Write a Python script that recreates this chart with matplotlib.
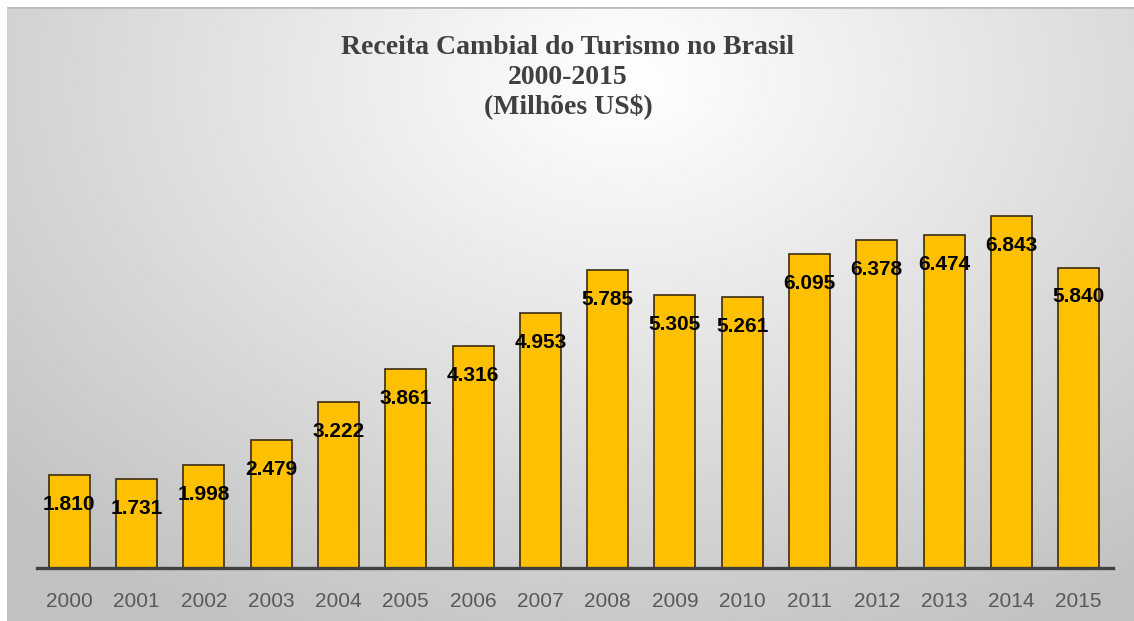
import numpy as np
import matplotlib
matplotlib.use("Agg")
import matplotlib.pyplot as plt

# Receita cambial do turismo no Brasil (milhões US$)
years = ["2000", "2001", "2002", "2003", "2004", "2005", "2006", "2007",
         "2008", "2009", "2010", "2011", "2012", "2013", "2014", "2015"]
receita = [1810, 1731, 1998, 2479, 3222, 3861, 4316, 4953,
           5785, 5305, 5261, 6095, 6378, 6474, 6843, 5840]
labels = ["1.810", "1.731", "1.998", "2.479", "3.222", "3.861", "4.316", "4.953",
          "5.785", "5.305", "5.261", "6.095", "6.378", "6.474", "6.843", "5.840"]

W, H = 1134, 621
fig = plt.figure(figsize=(W / 100, H / 100), dpi=100, facecolor="white")

# gray radial gradient panel, lighter near the title
bg = fig.add_axes([7 / W, 0, 1 - 7 / W, 1 - 7 / H])
bg.set_axis_off()
yy, xx = np.mgrid[0:1:300j, 0:1:600j]
r = np.sqrt(((xx - 0.55) / 0.75) ** 2 + ((yy - 0.12) / 1.0) ** 2)
shade = np.clip(1.0 - 0.24 * r, 0.76, 1.0)
bg.imshow(shade, cmap="gray", vmin=0, vmax=1, aspect="auto",
          extent=[0, 1, 0, 1], origin="upper")
bg.axhline(1, color="#bdbdbd", lw=2)

ax = fig.add_axes([37 / W, 53 / H, 1076 / W, 418 / H])
ax.patch.set_alpha(0)
x = np.arange(len(years))
ax.bar(x, receita, width=0.61, color="#FFC000", edgecolor="#3d2b0f",
       linewidth=1.2, zorder=2)

for xi, v, lab in zip(x, receita, labels):
    ax.annotate(lab, (xi, v), xytext=(0, -21), textcoords="offset points",
                ha="center", va="center", fontsize=15, fontweight="bold",
                family="Liberation Sans", color="black", zorder=3)

ax.set_xlim(-0.48, 15.51)
ax.set_ylim(0, 8126)
ax.set_yticks([])
ax.set_xticks(x)
ax.set_xticklabels(years, fontsize=15, color="#595959", family="Liberation Sans")
ax.tick_params(axis="x", length=0, pad=17)
for s in ["top", "right", "left"]:
    ax.spines[s].set_visible(False)
ax.spines["bottom"].set_color("#404040")
ax.spines["bottom"].set_linewidth(2.4)
ax.spines["bottom"].set_zorder(4)

title_kw = dict(ha="center", va="center", fontsize=20, fontweight="bold",
                family="Liberation Serif", color="#404040")
fig.text(568 / W, 1 - 47 / H, "Receita Cambial do Turismo no Brasil", **title_kw)
fig.text(568 / W, 1 - 77 / H, "2000-2015", **title_kw)
fig.text(568 / W, 1 - 106 / H, "(Milhões US$)", **title_kw)

fig.savefig("out.png", dpi=100)
